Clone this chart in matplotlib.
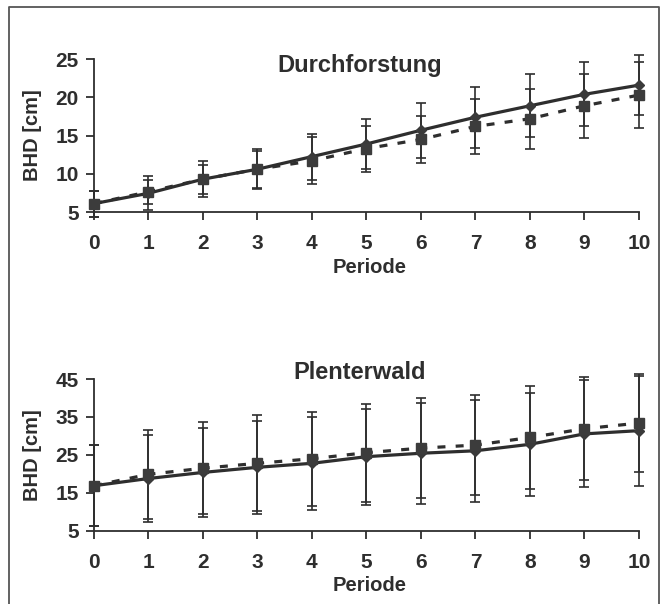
import matplotlib
matplotlib.use('Agg')

import matplotlib.pyplot as plt
from matplotlib.lines import Line2D

periods = list(range(11))

# Durchforstung
df_solid = [6.1, 7.45, 9.3, 10.6, 12.25, 13.9, 15.7, 17.4, 18.9, 20.4, 21.6]
df_solid_err = [1.7, 2.2, 2.4, 2.6, 3.0, 3.3, 3.6, 4.0, 4.1, 4.2, 3.9]
df_dashed = [6.1, 7.65, 9.3, 10.6, 11.7, 13.3, 14.5, 16.2, 17.2, 18.9, 20.3]
df_dashed_err = [1.7, 1.6, 1.9, 2.4, 3.1, 3.0, 3.1, 3.6, 3.9, 4.2, 4.3]

# Plenterwald
pw_solid = [16.9, 18.8, 20.4, 21.75, 22.8, 24.55, 25.45, 26.1, 27.8, 30.55, 31.4]
pw_solid_err = [10.6, 11.5, 11.7, 12.2, 12.3, 12.6, 13.25, 13.5, 13.5, 14.1, 14.5]
pw_dashed = [16.9, 19.9, 21.5, 22.8, 24.0, 25.6, 26.8, 27.6, 29.6, 31.9, 33.4]
pw_dashed_err = [10.6, 11.7, 12.1, 12.6, 12.4, 12.9, 13.2, 13.2, 13.5, 13.6, 13.0]

df_yticks = [5, 10, 15, 20, 25]
pw_yticks = [5, 15, 25, 35, 45]

INK = '#2e2e2e'
FONT = ['Liberation Sans', 'DejaVu Sans']


def panel(ax, solid, solid_err, dashed, dashed_err, yticks, title, title_y):
    # error bars first, thin lines with caps
    for m, e in ((solid, solid_err), (dashed, dashed_err)):
        bars = ax.errorbar(periods, m, yerr=e, fmt='none', ecolor=INK,
                           elinewidth=1.2, capsize=3.8, capthick=1.2)
        for art in list(bars.lines[1]) + list(bars.lines[2]):
            art.set_clip_on(False)

    ax.plot(periods, solid, '-', color=INK, lw=2.3, marker='D', ms=5.5,
            mfc='#3a3a3a', mec='#3a3a3a', clip_on=False, zorder=3)
    ax.plot(periods, dashed, color=INK, lw=2.3, dashes=(2.5, 3.2),
            marker='s', ms=6.8, mfc='#3c3c3c', mec='#3c3c3c',
            clip_on=False, zorder=4)

    ax.set_xlim(0, 10)
    ax.set_ylim(yticks[0], yticks[-1])
    ax.set_xticks(periods)
    ax.set_yticks(yticks)

    for side in ('top', 'right'):
        ax.spines[side].set_visible(False)
    for side in ('left', 'bottom'):
        ax.spines[side].set_color(INK)
        ax.spines[side].set_linewidth(1.3)

    ax.tick_params(axis='both', direction='out', length=6, width=1.3,
                   color=INK, labelcolor=INK, labelsize=15)
    ax.tick_params(axis='x', pad=10)
    ax.tick_params(axis='y', pad=5)
    for lab in ax.get_xticklabels() + ax.get_yticklabels():
        lab.set_fontweight('bold')
        lab.set_family(FONT)

    ax.set_ylabel('BHD [cm]', fontsize=14.5, fontweight='bold', color=INK,
                  family=FONT, va='center')
    ax.yaxis.set_label_coords(-0.112, 0.5)
    ax.set_xlabel('Periode', fontsize=14.5, fontweight='bold', color=INK,
                  family=FONT, va='center')
    ax.xaxis.set_label_coords(0.505, -0.36)

    ax.text(0.488, title_y, title, transform=ax.transAxes, ha='center',
            va='center', fontsize=17, fontweight='bold', color=INK,
            family=FONT)


def main():
    fig = plt.figure(figsize=(6.62, 6.04), dpi=100)

    ax1 = fig.add_axes([0.142, 0.649, 0.823, 0.253])
    panel(ax1, df_solid, df_solid_err, df_dashed, df_dashed_err,
          df_yticks, 'Durchforstung', 0.961)

    ax2 = fig.add_axes([0.142, 0.121, 0.823, 0.2515])
    panel(ax2, pw_solid, pw_solid_err, pw_dashed, pw_dashed_err,
          pw_yticks, 'Plenterwald', 1.04)

    # outer frame, open at the bottom
    x0, x1 = 9 / 662, 659 / 662
    ytop = 1 - 7 / 604
    fig.add_artist(Line2D([x0, x0, x1, x1], [-0.01, ytop, ytop, -0.01],
                          color='#555555', lw=1.3,
                          transform=fig.transFigure))

    fig.savefig('out.png', dpi=100)


if __name__ == '__main__':
    main()
